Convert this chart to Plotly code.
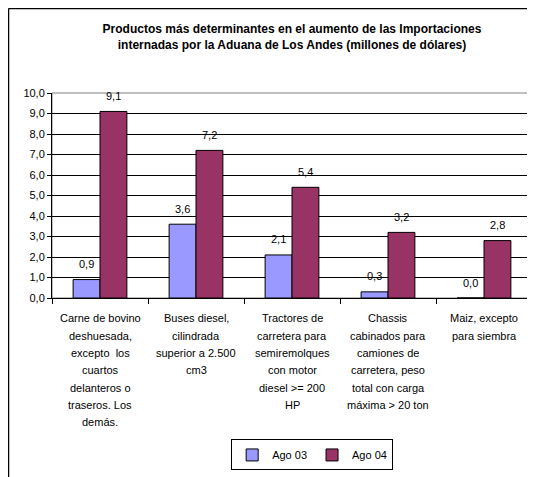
import plotly.graph_objects as go

categories = [
    "Carne de bovino\ndeshuesada,\nexcepto  los\ncuartos\ndelanteros o\ntraseros. Los\ndemás.",
    "Buses diesel,\ncilindrada\nsuperior a 2.500\ncm3",
    "Tractores de\ncarretera para\nsemiremolques\ncon motor\ndiesel >= 200\nHP",
    "Chassis\ncabinados para\ncamiones de\ncarretera, peso\ntotal con carga\nmáxima > 20 ton",
    "Maiz, excepto\npara siembra",
]
ago03 = [0.9, 3.6, 2.1, 0.3, 0.0]
ago04 = [9.1, 7.2, 5.4, 3.2, 2.8]
y_ticks = [0, 1, 2, 3, 4, 5, 6, 7, 8, 9, 10]

def fmt(v):
    return f"{v:.1f}".replace(".", ",")

FONT = "Liberation Sans, Arial, sans-serif"

# page body has an 8px margin: figure is sized so it fills the 535x477 window
W, H = 527, 469
ML, MR, MT, MB = 44, 3, 85, 179
PW, PH = W - ML - MR, H - MT - MB
BARGAP = 0.44
cat_px = PW / len(categories)
half_bar = cat_px * (1 - BARGAP) / 4  # center offset of each bar in a group

fig = go.Figure()
fig.add_trace(go.Bar(
    name="Ago 03", x=categories, y=ago03,
    marker=dict(color="#9999FF", line=dict(color="#000000", width=1)),
))
fig.add_trace(go.Bar(
    name="Ago 04", x=categories, y=ago04,
    marker=dict(color="#993366", line=dict(color="#000000", width=1)),
))

annotations = []
for series, shift in ((ago03, -half_bar), (ago04, half_bar)):
    for cat, v in zip(categories, series):
        annotations.append(dict(
            x=cat, xref="x", y=v, yref="y", text=fmt(v), showarrow=False,
            xanchor="center", yanchor="middle", xshift=shift, yshift=15.5,
            font=dict(family=FONT, size=11, color="#000000"),
        ))
for cat in categories:
    for i, line in enumerate(cat.split("\n")):
        annotations.append(dict(
            x=cat, xref="x", y=0, yref="paper",
            text=line, showarrow=False,
            xanchor="center", yanchor="middle",
            yshift=-(20.3 + 17.35 * i),
            font=dict(family=FONT, size=11, color="#000000"),
        ))

fig.update_layout(
    width=W, height=H,
    margin=dict(l=ML, r=MR, t=MT, b=MB, autoexpand=False),
    paper_bgcolor="#FFFFFF", plot_bgcolor="#FFFFFF",
    font=dict(family=FONT, size=11, color="#000000"),
    separators=",.",
    barmode="group", bargap=BARGAP, bargroupgap=0,
    title=dict(
        text="<b>Productos más determinantes en el aumento de las Importaciones<br>internadas por la Aduana de Los Andes (millones de dólares)</b>",
        x=0.5, xref="paper", xanchor="center",
        y=0.946, yanchor="top",
        font=dict(family=FONT, size=12, color="#000000"),
    ),
    showlegend=True,
    legend=dict(
        orientation="h", x=0.542, xanchor="center", y=-0.69, yanchor="top",
        bordercolor="#000000", borderwidth=1,
        font=dict(size=11), itemwidth=30,
    ),
    xaxis=dict(
        showline=True, linecolor="#000000", linewidth=1,
        ticks="outside", tickson="boundaries", ticklen=5, tickcolor="#000000",
        showticklabels=False, showgrid=False, automargin=False,
    ),
    yaxis=dict(
        range=[0, 10], tickvals=y_ticks, tickformat=".1f",
        showline=True, linecolor="#000000", linewidth=1,
        ticks="outside", ticklen=4, tickcolor="#000000",
        showgrid=True, gridcolor="#000000", gridwidth=1,
        zeroline=False, tickfont=dict(size=11), automargin=False,
    ),
    annotations=annotations,
    shapes=[
        dict(type="rect", xref="paper", yref="paper", x0=0, x1=1, y0=0, y1=1,
             line=dict(color="#808080", width=1), layer="below"),
        dict(type="line", xref="paper", yref="paper",
             x0=(0.5 - ML) / PW, x1=(W - ML) / PW,
             y0=(MT + PH - 0.5) / PH, y1=(MT + PH - 0.5) / PH,
             line=dict(color="#000000", width=1.5)),
        dict(type="line", xref="paper", yref="paper",
             x0=(0.5 - ML) / PW, x1=(0.5 - ML) / PW,
             y0=(MT + PH - 0.5) / PH, y1=-MB / PH,
             line=dict(color="#000000", width=1.5)),
    ],
)

fig.write_html("out.html")
